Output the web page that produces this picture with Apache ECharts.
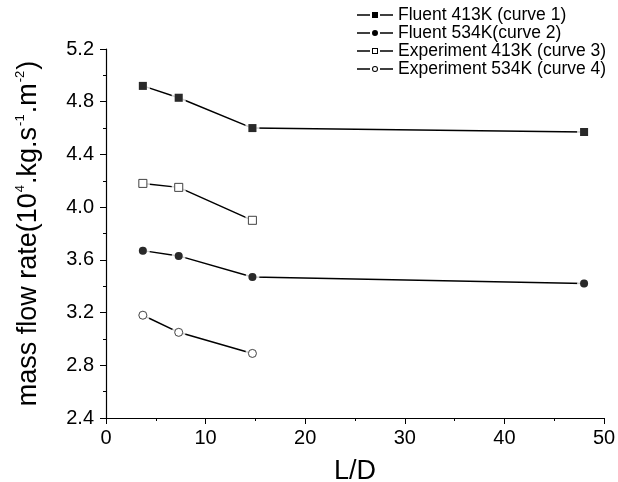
<!DOCTYPE html>
<html>
<head>
<meta charset="utf-8">
<script src="https://cdn.jsdelivr.net/npm/echarts@6/dist/echarts.min.js"></script>
<style>
  html, body { margin: 0; padding: 0; background: #fff; }
  #chart { width: 618px; height: 482px; }
</style>
</head>
<body>
<div id="chart"></div>
<script>
// L/D positions and the four curves
var ldValues = [3.7, 7.3, 14.7, 48];
var ldShort = [3.7, 7.3, 14.7];
var fluent413 = [4.92, 4.83, 4.60, 4.57];
var fluent534 = [3.67, 3.63, 3.47, 3.42];
var exp413 = [4.18, 4.15, 3.90];
var exp534 = [3.18, 3.05, 2.89];

var names = [
  'Fluent 413K (curve 1)',
  'Fluent 534K(curve 2)',
  'Experiment 413K (curve 3)',
  'Experiment 534K (curve 4)'
];

function pairs(xs, ys) {
  var out = [];
  for (var i = 0; i < ys.length; i++) out.push([xs[i], ys[i]]);
  return out;
}

// legend icons: "—■—" style, line broken around the marker (36x6 box)
var dash = 'M0,2.3H13V3.7H0Z M23,2.3H36V3.7H23Z ';
var icons = {
  rectFilled: 'path://' + dash + 'M15,0H21V6H15Z',
  rectOpen: 'path://' + dash + 'M15,0H21V6H15Z M16,1V5H20V1Z',
  circleFilled: 'path://' + dash + 'M15,3A3,3 0 1,1 21,3A3,3 0 1,1 15,3Z',
  circleOpen: 'path://' + dash + 'M15,3A3,3 0 1,1 21,3A3,3 0 1,1 15,3Z M16,3A2,2 0 1,0 20,3A2,2 0 1,0 16,3Z'
};

var curves = [
  { name: names[0], data: pairs(ldValues, fluent413), symbol: 'rect', filled: true, icon: icons.rectFilled },
  { name: names[1], data: pairs(ldValues, fluent534), symbol: 'circle', filled: true, icon: icons.circleFilled },
  { name: names[2], data: pairs(ldShort, exp413), symbol: 'rect', filled: false, icon: icons.rectOpen },
  { name: names[3], data: pairs(ldShort, exp534), symbol: 'circle', filled: false, icon: icons.circleOpen }
];

var series = [];
var legendData = [];
curves.forEach(function (c) {
  var markStyle = c.filled
    ? { color: '#000', borderColor: '#000', borderWidth: 0 }
    : { color: '#fff', borderColor: '#222', borderWidth: 1 };
  legendData.push({
    name: c.name,
    icon: c.icon,
    itemStyle: { color: '#000', borderWidth: 0 }
  });
  // line
  series.push({
    name: c.name,
    type: 'line',
    data: c.data,
    symbol: c.symbol,
    symbolSize: 8,
    itemStyle: markStyle,
    lineStyle: { color: '#000', width: 1.5 },
    z: 1,
    silent: true
  });
  // white halo -> gap between line and marker
  series.push({
    type: 'scatter',
    data: c.data,
    symbol: c.symbol,
    symbolSize: 14,
    itemStyle: { color: '#fff' },
    z: 2,
    silent: true
  });
  // the visible marker
  series.push({
    type: 'scatter',
    data: c.data,
    symbol: c.symbol,
    symbolSize: 8,
    itemStyle: markStyle,
    z: 3,
    silent: true
  });
});

var myChart = echarts.init(document.getElementById('chart'));
var option = {
  animation: false,
  backgroundColor: '#fff',
  textStyle: { fontFamily: 'Liberation Sans, Arial, sans-serif', color: '#000' },
  grid: { left: 106, right: 14, top: 49, bottom: 64, outerBoundsMode: 'none' },
  legend: {
    data: legendData,
    orient: 'vertical',
    left: 357,
    top: 6,
    padding: 0,
    itemWidth: 36,
    itemHeight: 6,
    itemGap: 0,
    textStyle: { fontSize: 17.5, lineHeight: 17, color: '#000', fontFamily: 'Liberation Sans, Arial, sans-serif' }
  },
  xAxis: {
    type: 'value',
    min: 0,
    max: 50,
    interval: 10,
    name: 'L/D',
    nameLocation: 'middle',
    nameGap: 40,
    nameTextStyle: { fontSize: 27, color: '#000' },
    axisLine: { lineStyle: { color: '#000', width: 1.2 } },
    axisTick: { length: 6, lineStyle: { color: '#000' } },
    minorTick: { show: true, splitNumber: 2, length: 3, lineStyle: { color: '#000' } },
    splitLine: { show: false },
    axisLabel: { fontSize: 20, color: '#000', margin: 10 }
  },
  yAxis: {
    type: 'value',
    min: 2.4,
    max: 5.2,
    interval: 0.4,
    name: 'mass flow rate(10{sup|4}.kg.s{sup|-1}.m{sup|-2})',
    nameLocation: 'middle',
    nameGap: 63,
    nameTextStyle: {
      fontSize: 27,
      color: '#000',
      rich: {
        sup: { fontSize: 13, verticalAlign: 'top', padding: [0, 1, 16, 1], color: '#000' }
      }
    },
    axisLine: { show: true, lineStyle: { color: '#000', width: 1.2 } },
    axisTick: { show: true, length: 6, lineStyle: { color: '#000' } },
    minorTick: { show: true, splitNumber: 2, length: 3, lineStyle: { color: '#000' } },
    splitLine: { show: false },
    axisLabel: {
      fontSize: 20,
      color: '#000',
      margin: 12,
      formatter: function (v) { return v.toFixed(1); }
    }
  },
  series: series
};
myChart.setOption(option);
window.onresize = function () { myChart.resize(); };
</script>
</body>
</html>
